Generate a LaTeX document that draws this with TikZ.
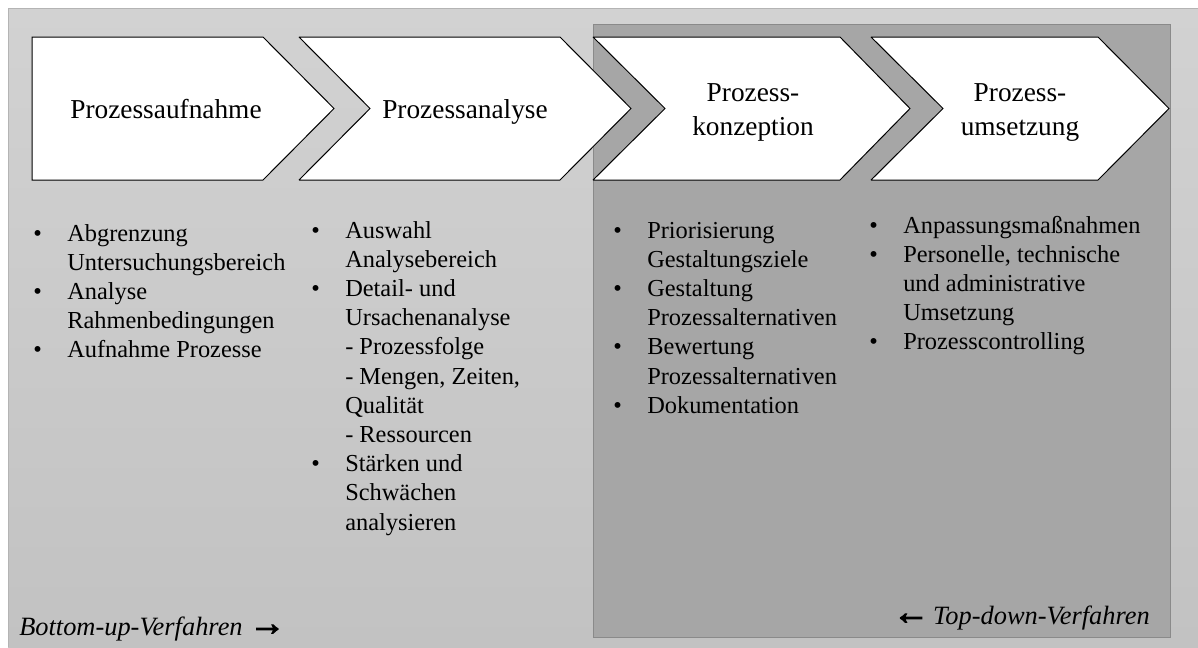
\documentclass[tikz,border=0pt]{standalone}
\usepackage{fontspec}
\setmainfont{Liberation Serif}
\newfontfamily\arrowfont[FakeBold=3]{Liberation Sans}
\definecolor{bgtop}{HTML}{D2D2D2}
\definecolor{bgbot}{HTML}{C2C2C2}
\definecolor{bgline}{HTML}{B4B4B4}
\definecolor{darkbg}{HTML}{A6A6A6}
\definecolor{darkline}{HTML}{8A8A8A}
\tikzset{
  chev/.style={draw=black,fill=white,line width=0.75pt,line join=miter,miter limit=1.5},
  head/.style={inner sep=0pt,font=\fontsize{20.5}{25}\selectfont},
  blist/.style={inner sep=0pt,anchor=base west,font=\fontsize{18.3}{21.9}\selectfont},
  foot/.style={inner sep=0pt,font=\fontsize{19.8}{24}\selectfont},
  arr/.style={font=\arrowfont\fontsize{27}{27}\selectfont}
}
\begin{document}
\begin{tikzpicture}[x=0.75pt,y=-0.75pt]
\useasboundingbox (0,0) rectangle (1198,647);
\fill[white] (0,0) rectangle (1198,647);
\shade[top color=bgtop,bottom color=bgbot] (8,8) rectangle (1198,647);
\draw[bgline,line width=0.75pt] (8,647) -- (8,8) -- (1198,8);
\filldraw[fill=darkbg,draw=darkline,line width=0.75pt] (593,24) rectangle (1170,637);
% chevrons
\draw[chev] (32,37) -- (263,37) -- (334,108.5) -- (263,180) -- (32,180) -- cycle;
\draw[chev] (299,37) -- (560,37) -- (631,108.5) -- (560,180) -- (299,180) -- (370,108.5) -- cycle;
\draw[chev] (593,37) -- (840,37) -- (910,108.5) -- (840,180) -- (593,180) -- (665,108.5) -- cycle;
\draw[chev] (871,37) -- (1098,37) -- (1169,108.5) -- (1098,180) -- (871,180) -- (943,108.5) -- cycle;
% headings
\node[head,anchor=base] (h1) at (166,118.5) {Prozessaufnahme};
\node[head,anchor=base] (h2) at (465,118.5) {Prozessanalyse};
\node[head,anchor=base] (h3) at (753,101.7) {\begin{tabular}[t]{@{}c@{}}Prozess-\\konzeption\end{tabular}};
\node[head,anchor=base] (h4) at (1020,101.7) {\begin{tabular}[t]{@{}c@{}}Prozess-\\umsetzung\end{tabular}};
% bullet lists
\node[blist] (l1) at (33,241) {\begin{tabular}[t]{@{}p{25.5pt}@{}l@{}}
\textbullet & Abgrenzung\\
 & Untersuchungsbereich\\
\textbullet & Analyse\\
 & Rahmenbedingungen\\
\textbullet & Aufnahme Prozesse
\end{tabular}};
\node[blist] (l2) at (311,238) {\begin{tabular}[t]{@{}p{25.5pt}@{}l@{}}
\textbullet & Auswahl\\
 & Analysebereich\\
\textbullet & Detail- und\\
 & Ursachenanalyse\\
 & - Prozessfolge\\
 & - Mengen, Zeiten,\\
 & Qualität\\
 & - Ressourcen\\
\textbullet & Stärken und\\
 & Schwächen\\
 & analysieren
\end{tabular}};
\node[blist] (l3) at (613,238) {\begin{tabular}[t]{@{}p{25.5pt}@{}l@{}}
\textbullet & Priorisierung\\
 & Gestaltungsziele\\
\textbullet & Gestaltung\\
 & Prozessalternativen\\
\textbullet & Bewertung\\
 & Prozessalternativen\\
\textbullet & Dokumentation
\end{tabular}};
\node[blist] (l4) at (869,233) {\begin{tabular}[t]{@{}p{25.5pt}@{}l@{}}
\textbullet & Anpassungsmaßnahmen\\
\textbullet & Personelle, technische\\
 & und administrative\\
 & Umsetzung\\
\textbullet & Prozesscontrolling
\end{tabular}};
% footer labels
\node[foot,anchor=base west] (bu) at (19,635) {\textit{Bottom-up-Verfahren}\hspace{5pt}{\arrowfont\fontsize{27}{27}\selectfont →}};
\node[foot,anchor=base east] (td) at (1150,624) {{\arrowfont\fontsize{27}{27}\selectfont ←}\hspace{3pt}\textit{Top-down-Verfahren}};
\end{tikzpicture}
\end{document}
